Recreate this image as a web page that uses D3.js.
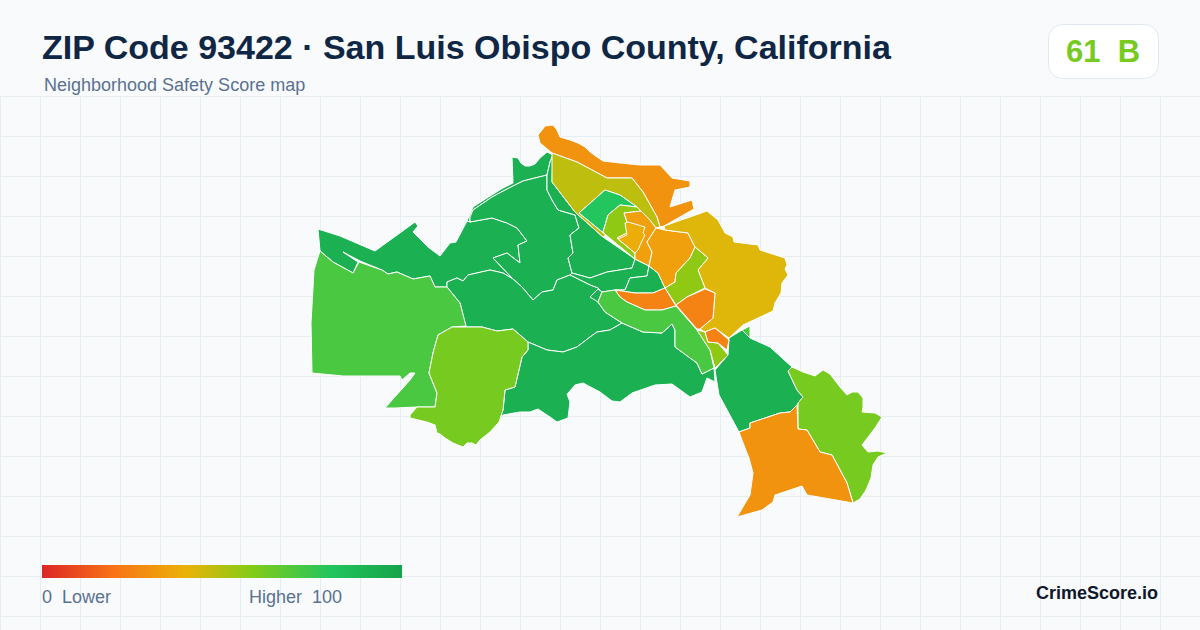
<!DOCTYPE html>
<html>
<head>
<meta charset="utf-8">
<script src="https://cdn.jsdelivr.net/npm/d3@7"></script>
<style>
  html, body { margin: 0; padding: 0; background: #f8fafc; }
  svg { display: block; font-family: "Liberation Sans", Arial, sans-serif; }
  text { white-space: pre; }
</style>
</head>
<body>
<svg id="chart" width="1200" height="630"></svg>
<script>
// score -> colour ramp, same stops as the legend
var rampStops = [0, 20, 40, 58, 80, 100];
var rampColors = ['#dc2626', '#f97316', '#eab308', '#84cc16', '#22c55e', '#16a34a'];

// tract outlines, painted in this order
var tractScores = [92, 92, 92, 92, 92, 92, 92, 92, 92, 92, 71, 71, 61, 30, 48, 80, 56, 34, 38, 34, 42, 56, 25, 25, 71, 56, 25, 61, 30];
var tractOutlines = [
  // north strip
  [[473,207],[490,196],[503,188],[513,183],[512,157],[518,158],[521,163],[525,166],[530,166],[535,164],[540,158],[547,152],[553,155],[550,162],[547,175],[523,181],[507,189],[492,197],[473,210],[470,217],[470,222],[467,221]],
  // west strip
  [[318,229],[340,236],[375,251],[415,222],[418,226],[413,232],[428,247],[440,256],[450,243],[456,242],[467,221],[470,222],[492,218],[507,223],[517,228],[527,241],[518,245],[520,263],[507,253],[493,258],[513,279],[503,273],[490,270],[468,275],[463,281],[457,278],[447,282],[447,287],[435,287],[430,276],[413,279],[397,272],[388,274],[382,270],[360,261],[343,252],[358,262],[353,273],[333,262],[320,251]],
  // centre north
  [[547,175],[523,181],[507,189],[492,197],[473,210],[470,217],[470,222],[492,218],[507,223],[517,228],[527,241],[518,245],[520,263],[507,253],[493,258],[513,279],[522,287],[533,300],[542,292],[553,290],[557,280],[570,275],[572,273],[568,258],[573,253],[570,235],[579,228],[575,215],[558,210],[552,200],[547,190]],
  // wedge under the olive tract
  [[553,155],[552,182],[575,212],[603,237],[635,259],[632,268],[607,272],[590,278],[572,273],[568,258],[573,253],[570,235],[579,228],[575,215],[558,210],[552,200],[547,190],[547,175],[550,162]],
  // thin band
  [[572,273],[590,278],[607,272],[632,268],[635,259],[649,266],[647,276],[630,278],[625,290],[615,290],[602,292],[598,288],[590,285],[570,275]],
  // above the lens
  [[625,290],[630,278],[647,276],[649,266],[658,273],[665,288],[653,293],[635,293],[615,290]],
  // centre south
  [[533,300],[542,292],[553,290],[557,280],[570,275],[590,285],[598,288],[602,292],[598,302],[605,312],[622,323],[610,330],[597,332],[590,337],[577,347],[563,352],[547,350],[528,342],[513,329],[497,331],[482,327],[466,327],[460,303],[447,287],[447,282],[457,278],[463,281],[468,275],[490,270],[503,273],[513,279],[522,287]],
  // small wedge
  [[590,297],[598,289],[602,292],[598,302]],
  // south hills
  [[528,342],[547,350],[563,352],[577,347],[590,337],[597,332],[610,330],[622,323],[643,332],[662,333],[672,324],[675,330],[675,347],[697,363],[702,374],[714,368],[715,382],[707,378],[702,392],[690,397],[672,384],[655,385],[632,393],[620,402],[612,401],[600,392],[583,383],[575,385],[569,392],[567,394],[570,402],[568,418],[557,422],[550,417],[538,409],[530,412],[520,412],[503,415],[499,422],[503,410],[505,390],[515,387],[522,357],[528,350]],
  // south east green
  [[715,370],[728,355],[729,338],[742,330],[750,338],[770,347],[792,367],[788,371],[797,390],[803,397],[797,405],[790,412],[780,413],[750,423],[750,428],[739,432],[719,395],[717,383]],
  // sliver on top of it
  [[742,330],[750,326],[750,338]],
  // west tract
  [[320,251],[333,262],[353,273],[359,262],[382,270],[388,274],[397,272],[413,279],[430,276],[435,287],[447,287],[460,303],[466,326],[452,327],[438,335],[433,353],[429,373],[437,393],[435,407],[417,407],[395,408],[385,408],[410,380],[415,373],[410,373],[402,380],[400,376],[343,376],[312,373],[311,323],[314,270]],
  // south west lime
  [[452,327],[466,327],[482,327],[497,331],[513,329],[528,342],[528,350],[522,357],[515,387],[505,390],[503,410],[499,422],[490,432],[480,440],[476,445],[472,443],[467,443],[463,447],[453,443],[445,438],[440,434],[437,433],[435,425],[427,422],[410,418],[410,415],[417,407],[435,407],[437,393],[429,373],[433,353],[438,335]],
  // top orange band
  [[538,135],[542,130],[545,126],[553,125],[557,130],[560,137],[570,140],[578,143],[585,147],[590,152],[597,157],[603,161],[620,163],[640,165],[660,165],[672,178],[690,181],[690,187],[675,190],[670,207],[692,200],[694,209],[664,226],[660,227],[657,217],[643,192],[632,178],[607,178],[577,162],[552,153],[540,143]],
  // olive tract with its strip along the diagonal
  [[552,153],[577,162],[607,178],[632,178],[643,192],[657,217],[660,227],[656,228],[649,219],[641,211],[637,207],[620,195],[605,190],[579,213],[606,235],[603,237],[575,212],[552,182]],
  // bright green
  [[579,213],[605,190],[620,195],[637,207],[620,205],[608,215],[603,232],[606,235]],
  // lime next to it
  [[620,205],[637,207],[641,211],[624,213],[627,222],[627,233],[617,238],[635,253],[635,259],[606,235],[603,232],[608,215]],
  // orange ring
  [[624,213],[641,211],[649,219],[656,228],[647,242],[652,252],[649,266],[635,259],[635,253],[617,238],[627,233],[627,222]],
  // inner amber
  [[628,222],[645,227],[643,233],[645,235],[641,243],[638,250],[635,253],[618,239],[627,235],[625,223]],
  // orange centre
  [[656,228],[665,230],[688,233],[695,247],[690,258],[676,273],[675,282],[665,288],[658,273],[649,266],[652,252],[647,242]],
  // big amber east
  [[664,226],[707,211],[718,220],[725,233],[733,237],[734,242],[758,245],[760,250],[785,258],[787,265],[785,269],[788,275],[782,283],[781,293],[775,303],[773,311],[743,325],[729,338],[715,328],[705,332],[700,329],[713,318],[715,293],[705,288],[698,270],[708,258],[695,247],[688,233],[665,230]],
  // bright lime centre
  [[695,247],[708,258],[698,270],[705,288],[687,297],[676,305],[665,288],[675,282],[676,273],[690,258]],
  // orange right of the diagonal
  [[705,289],[715,293],[713,318],[700,329],[697,329],[676,305],[687,297]],
  // orange lens
  [[615,290],[635,293],[653,293],[665,288],[676,306],[662,310],[645,310],[627,302],[620,297]],
  // light green band
  [[602,292],[615,290],[620,297],[627,302],[645,310],[662,310],[676,306],[697,330],[710,350],[714,368],[702,374],[697,363],[675,347],[675,330],[672,324],[662,333],[643,332],[622,323],[605,312],[598,302]],
  // small lime
  [[697,330],[705,332],[708,342],[718,343],[728,355],[715,368],[710,350]],
  // small orange
  [[705,332],[715,328],[729,340],[727,350],[718,343],[708,342]],
  // south east lime
  [[788,371],[792,367],[803,372],[815,376],[823,370],[830,374],[840,387],[847,395],[852,392],[858,392],[863,398],[863,408],[862,412],[875,413],[882,417],[875,428],[862,445],[868,452],[878,451],[887,453],[878,457],[873,465],[871,478],[866,490],[860,499],[853,503],[847,483],[832,455],[820,452],[807,430],[798,429],[798,403],[803,397],[797,390]],
  // south orange
  [[739,432],[750,428],[750,423],[780,413],[790,412],[797,405],[798,429],[807,430],[820,452],[832,455],[847,483],[853,503],[807,495],[802,486],[775,495],[773,502],[762,510],[737,517],[750,495],[753,473],[749,458],[745,448]]
];

var headline = 'ZIP Code 93422 \u00b7 San Luis Obispo County, California';
var subhead = 'Neighborhood Safety Score map';
var badgeLabel = '61  B';
var badgeScore = 61;
var legendLow = '0  Lower';
var legendHigh = 'Higher  100';
var brandLabel = 'CrimeScore.io';

var svg = d3.select('#chart');
var color = d3.scaleLinear().domain(rampStops).range(rampColors);

svg.append('rect').attr('width', 1200).attr('height', 630).attr('fill', '#f8fafc');

// background grid, starts below the header
var grid = svg.append('g').attr('stroke', '#e6eef2').attr('stroke-width', 1);
grid.selectAll('line.v').data(d3.range(0, 1200, 40)).join('line')
  .attr('class', 'v')
  .attr('x1', function (d) { return d + 0.5; }).attr('x2', function (d) { return d + 0.5; })
  .attr('y1', 96).attr('y2', 630);
grid.selectAll('line.h').data(d3.range(96, 630, 40)).join('line')
  .attr('class', 'h')
  .attr('y1', function (d) { return d + 0.5; }).attr('y2', function (d) { return d + 0.5; })
  .attr('x1', 0).attr('x2', 1200);

// map
var features = tractOutlines.map(function (ring, i) {
  return {
    type: 'Feature',
    properties: { score: tractScores[i] },
    geometry: { type: 'Polygon', coordinates: [ring.concat([ring[0]])] }
  };
});
var path = d3.geoPath(d3.geoIdentity());
svg.append('g').selectAll('path').data(features).join('path')
  .attr('d', path)
  .attr('fill', function (d) { return color(d.properties.score); })
  .attr('stroke', '#fff')
  .attr('stroke-width', 1)
  .attr('stroke-linejoin', 'round');

// header
svg.append('text').attr('x', 42).attr('y', 59)
  .attr('font-size', 34).attr('font-weight', 700).attr('fill', '#0f2744')
  .text(headline);
svg.append('text').attr('x', 44).attr('y', 91)
  .attr('font-size', 18).attr('fill', '#5b7190')
  .text(subhead);

// score badge
svg.append('rect').attr('x', 1048.5).attr('y', 24.5).attr('width', 110).attr('height', 54).attr('rx', 14)
  .attr('fill', '#fff').attr('stroke', '#e2e8f0');
svg.append('text').attr('x', 1103).attr('y', 62).attr('text-anchor', 'middle')
  .attr('font-size', 31).attr('font-weight', 700).attr('fill', color(badgeScore))
  .text(badgeLabel);

// legend
var legendX = d3.scaleLinear().domain([0, 100]).range([42, 402]);
var gradient = svg.append('defs').append('linearGradient').attr('id', 'ramp');
gradient.selectAll('stop').data(rampStops).join('stop')
  .attr('offset', function (d) { return d + '%'; })
  .attr('stop-color', function (d) { return color(d); });
svg.append('rect').attr('x', legendX(0)).attr('y', 565)
  .attr('width', legendX(100) - legendX(0)).attr('height', 13)
  .attr('fill', 'url(#ramp)');
svg.append('text').attr('x', legendX(0)).attr('y', 603)
  .attr('font-size', 18).attr('fill', '#5b7190').text(legendLow);
svg.append('text').attr('x', 249).attr('y', 603)
  .attr('font-size', 18).attr('fill', '#5b7190').text(legendHigh);

svg.append('text').attr('x', 1158).attr('y', 599).attr('text-anchor', 'end')
  .attr('font-size', 18).attr('font-weight', 700).attr('fill', '#0f172a')
  .text(brandLabel);
</script>
</body>
</html>
